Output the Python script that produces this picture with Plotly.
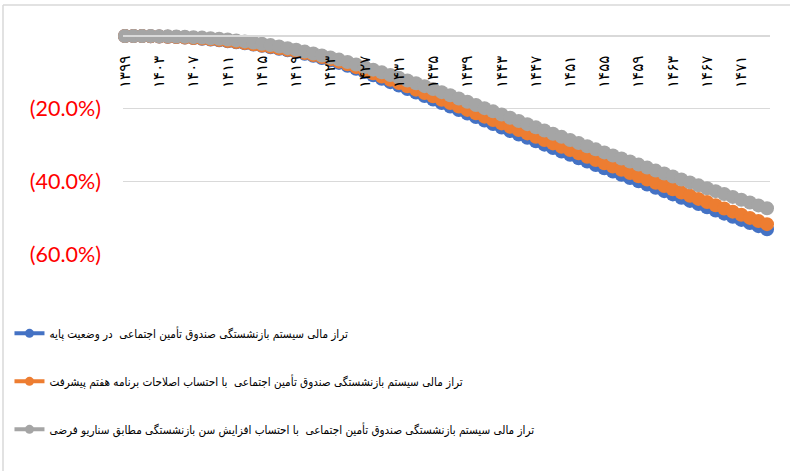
import plotly.graph_objects as go

years = list(range(1399, 1475))

base = [0, -0.01, -0.03, -0.07, -0.13, -0.20, -0.30, -0.42, -0.57, -0.74,
        -0.95, -1.18, -1.44, -1.72, -2.02, -2.35, -2.71, -3.09, -3.50, -3.94,
        -4.40, -4.90, -5.45, -6.05, -6.70, -7.40, -8.18, -9.02, -9.90, -10.81,
        -11.75, -12.70, -13.65, -14.60, -15.55, -16.50, -17.47, -18.44, -19.41, -20.38,
        -21.35, -22.31, -23.27, -24.23, -25.19, -26.15, -27.09, -28.03, -28.97, -29.91,
        -30.85, -31.78, -32.71, -33.64, -34.57, -35.50, -36.40, -37.30, -38.20, -39.10,
        -40.00, -40.90, -41.80, -42.70, -43.60, -44.50, -45.38, -46.26, -47.14, -48.02,
        -48.90, -49.76, -50.62, -51.48, -52.34, -53.20]

reform7 = [0, -0.01, -0.03, -0.07, -0.13, -0.20, -0.30, -0.42, -0.57, -0.72,
           -0.90, -1.13, -1.38, -1.65, -1.94, -2.26, -2.61, -2.98, -3.38, -3.80,
           -4.24, -4.71, -5.23, -5.79, -6.40, -7.06, -7.79, -8.58, -9.41, -10.27,
           -11.16, -12.06, -12.96, -13.86, -14.77, -15.68, -16.61, -17.54, -18.47, -19.40,
           -20.34, -21.27, -22.20, -23.13, -24.06, -24.99, -25.90, -26.81, -27.72, -28.64,
           -29.56, -30.47, -31.38, -32.30, -33.22, -34.14, -35.03, -35.93, -36.83, -37.72,
           -38.62, -39.51, -40.41, -41.30, -42.20, -43.09, -43.97, -44.84, -45.72, -46.60,
           -47.48, -48.34, -49.20, -50.06, -50.92, -51.78]

retire_age = [0, 0, -0.01, -0.03, -0.06, -0.10, -0.15, -0.22, -0.31, -0.44,
              -0.60, -0.77, -0.97, -1.21, -1.49, -1.80, -2.14, -2.51, -2.91, -3.34,
              -3.80, -4.29, -4.81, -5.35, -5.91, -6.50, -7.16, -7.84, -8.54, -9.26,
              -10.00, -10.74, -11.49, -12.25, -13.02, -13.80, -14.62, -15.46, -16.32, -17.20,
              -18.10, -18.98, -19.86, -20.74, -21.62, -22.50, -23.38, -24.26, -25.14, -26.02,
              -26.90, -27.76, -28.62, -29.48, -30.34, -31.20, -32.04, -32.88, -33.72, -34.56,
              -35.40, -36.22, -37.04, -37.86, -38.68, -39.50, -40.30, -41.10, -41.90, -42.70,
              -43.50, -44.28, -45.06, -45.84, -46.62, -47.40]

names = [
    "تراز مالی سیستم بازنشستگی صندوق تأمین اجتماعی  در وضعیت پایه",
    "تراز مالی سیستم بازنشستگی صندوق تأمین اجتماعی  با احتساب اصلاحات برنامه هفتم پیشرفت ",
    "تراز مالی سیستم بازنشستگی صندوق تأمین اجتماعی  با احتساب افزایش سن بازنشستگی مطابق سناریو فرضی",
]
colors = ["#4472C4", "#ED7D31", "#A5A5A5"]
series = [base, reform7, retire_age]

fa_digits = str.maketrans("0123456789", "۰۱۲۳۴۵۶۷۸۹")
tick_years = list(range(1399, 1475, 4))
tick_text = [str(y).translate(fa_digits) for y in tick_years]

y_ticks = [0, -20, -40, -60]
y_text = ["", "(20.0%)", "(40.0%)", "(60.0%)"]

fig = go.Figure()
for i, (vals, name, col) in enumerate(zip(series, names, colors)):
    fig.add_trace(go.Scatter(
        x=years, y=vals, mode="lines+markers", name=name,
        line=dict(color=col, width=4),
        marker=dict(color=col, size=14),
        cliponaxis=False, showlegend=False,
    ))
for i, (name, col) in enumerate(zip(names, colors)):
    fig.add_trace(go.Scatter(
        x=[None], y=[None], mode="lines+markers", name=name,
        line=dict(color=col, width=4), marker=dict(color=col, size=9),
        legendgroup=f"g{i}", showlegend=True,
    ))

fig.update_layout(
    width=790, height=471,
    margin=dict(l=123, r=20, t=36, b=217, autoexpand=False),
    paper_bgcolor="white", plot_bgcolor="white",
    xaxis=dict(
        range=[1398.77, 1474.35], tickvals=tick_years, ticktext=tick_text,
        tickangle=-90, side="bottom", anchor="free", position=1,
        showgrid=False, zeroline=False, automargin=False,
        showline=True, linecolor="#D9D9D9", linewidth=1.5,
        ticks="", ticklabelstandoff=13,
        tickfont=dict(family="DejaVu Sans", size=15, color="black"),
    ),
    yaxis=dict(
        range=[-60, 0], tickvals=y_ticks, ticktext=y_text,
        showgrid=True, gridcolor="#D9D9D9", gridwidth=1,
        zeroline=False, showline=False, ticks="", automargin=False,
        ticklabelstandoff=21,
        tickfont=dict(family="Lato", size=21.5, color="#FF0000"),
    ),
    legend=dict(
        xref="container", yref="container", x=0.012, y=0.323,
        xanchor="left", yanchor="top",
        font=dict(family="DejaVu Sans Condensed", size=11.6, color="black"),
        tracegroupgap=29, bgcolor="rgba(0,0,0,0)",
    ),
    shapes=[
        dict(type="line", xref="paper", yref="paper",
             x0=(3 - 123) / 647, x1=(790 - 123) / 647,
             y0=1 + 31 / 218, y1=1 + 31 / 218,
             line=dict(color="#D9D9D9", width=1.5)),
        dict(type="line", xref="paper", yref="paper",
             x0=(3 - 123) / 647, x1=(3 - 123) / 647,
             y0=1 + 31 / 218, y1=-(471 - 254) / 218,
             line=dict(color="#D9D9D9", width=1.5)),
    ],
)

fig.write_html("out.html")
